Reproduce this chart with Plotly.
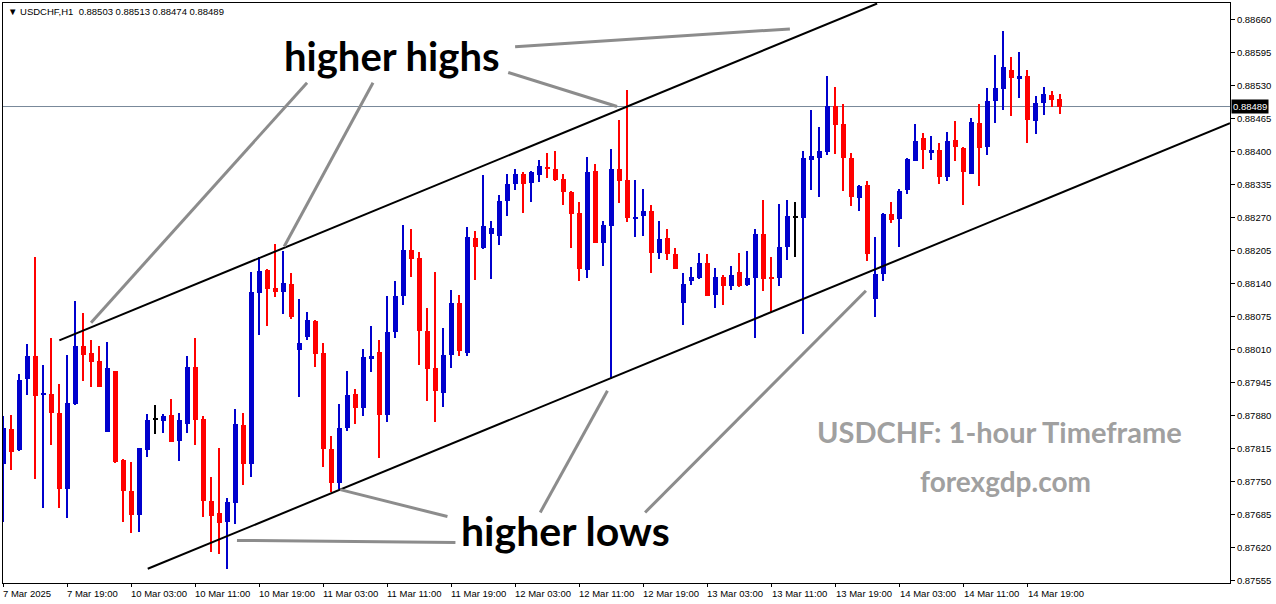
import plotly.graph_objects as go

# ---------------- data (USDCHF H1, prices) ----------------
opens = [0.87785,0.87854,0.87813,0.87953,0.87998,0.87922,0.87923,0.87886,0.87736,0.87903,
0.88018,0.88004,0.87988,0.87848,0.87967,0.87792,0.87731,0.87685,0.87813,0.87873,
0.87870,0.87882,0.87829,0.87864,0.87976,0.87874,0.87712,0.87687,0.87671,0.87707,
0.87862,0.87785,0.88122,0.88166,0.88132,0.88124,0.88140,0.88010,0.88034,0.88067,
0.88003,0.87814,0.87747,0.87855,0.87923,0.87894,0.87991,0.88005,0.87881,0.88044,
0.88115,0.88207,0.88191,0.88047,0.87974,0.87924,0.87999,0.88101,0.88003,0.88229,
0.88210,0.88237,0.88233,0.88302,0.88336,0.88357,0.88338,0.88355,0.88370,0.88365,
0.88347,0.88321,0.88280,0.88166,0.88361,0.88221,0.88253,0.88365,0.88345,0.88269,
0.88273,0.88284,0.88200,0.88229,0.88199,0.88101,0.88146,0.88152,0.88181,0.88117,
0.88154,0.88135,0.88162,0.88137,0.88152,0.88238,0.88153,0.88152,0.88213,0.88271,
0.88269,0.88384,0.88387,0.88400,0.88491,0.88454,0.88388,0.88308,0.88335,0.88109,
0.88158,0.88278,0.88267,0.88324,0.88382,0.88426,0.88397,0.88404,0.88351,0.88424,
0.88408,0.88357,0.88457,0.88409,0.88499,0.88523,0.88560,0.88544,0.88550,0.88460,
0.88495,0.88512,0.88503]
highs = [0.87880,0.87882,0.87962,0.88021,0.88193,0.87980,0.88032,0.87942,0.88000,0.88106,
0.88083,0.88028,0.88018,0.88024,0.87967,0.87795,0.87789,0.87817,0.87883,0.87900,
0.87883,0.87913,0.87886,0.87998,0.88032,0.87880,0.87758,0.87817,0.87718,0.87892,
0.87886,0.88162,0.88193,0.88168,0.88219,0.88205,0.88160,0.88110,0.88085,0.88069,
0.88022,0.87840,0.87902,0.87967,0.87933,0.88012,0.88056,0.88028,0.88115,0.88146,
0.88256,0.88248,0.88203,0.88091,0.88162,0.88052,0.88128,0.88118,0.88252,0.88243,
0.88355,0.88264,0.88315,0.88357,0.88366,0.88359,0.88361,0.88384,0.88398,0.88402,
0.88357,0.88323,0.88301,0.88389,0.88376,0.88264,0.88406,0.88463,0.88522,0.88345,
0.88327,0.88294,0.88264,0.88248,0.88211,0.88160,0.88173,0.88201,0.88199,0.88171,
0.88156,0.88175,0.88201,0.88205,0.88247,0.88305,0.88192,0.88296,0.88305,0.88301,
0.88402,0.88483,0.88449,0.88550,0.88528,0.88493,0.88398,0.88335,0.88343,0.88231,
0.88280,0.88301,0.88326,0.88388,0.88455,0.88437,0.88431,0.88418,0.88439,0.88461,
0.88410,0.88467,0.88493,0.88526,0.88591,0.88638,0.88587,0.88597,0.88560,0.88510,
0.88528,0.88520,0.88513]
lows = [0.87670,0.87773,0.87811,0.87921,0.87754,0.87697,0.87821,0.87697,0.87678,0.87900,
0.87948,0.87937,0.87937,0.87848,0.87786,0.87670,0.87648,0.87651,0.87798,0.87843,
0.87845,0.87827,0.87791,0.87845,0.87821,0.87681,0.87612,0.87608,0.87578,0.87667,
0.87744,0.87758,0.88039,0.88057,0.88114,0.88081,0.88071,0.87916,0.88028,0.87976,
0.87778,0.87729,0.87735,0.87849,0.87863,0.87879,0.87965,0.87796,0.87867,0.88032,
0.88097,0.88154,0.87979,0.87908,0.87867,0.87896,0.87973,0.87997,0.87997,0.88148,
0.88208,0.88150,0.88217,0.88273,0.88324,0.88280,0.88300,0.88340,0.88349,0.88342,
0.88294,0.88210,0.88146,0.88152,0.88221,0.88175,0.87952,0.88298,0.88261,0.88231,
0.88233,0.88160,0.88188,0.88186,0.88168,0.88058,0.88138,0.88150,0.88115,0.88091,
0.88097,0.88128,0.88133,0.88135,0.88032,0.88125,0.88085,0.88135,0.88186,0.88192,
0.88040,0.88324,0.88310,0.88394,0.88396,0.88322,0.88292,0.88284,0.88184,0.88074,
0.88145,0.88259,0.88213,0.88316,0.88381,0.88365,0.88383,0.88336,0.88342,0.88381,
0.88294,0.88357,0.88332,0.88393,0.88456,0.88483,0.88470,0.88505,0.88418,0.88434,
0.88472,0.88489,0.88474]
closes = [0.87856,0.87808,0.87951,0.87998,0.87919,0.87923,0.87886,0.87736,0.87905,0.88018,
0.88000,0.87985,0.87937,0.87973,0.87789,0.87731,0.87685,0.87817,0.87872,0.87873,
0.87880,0.87827,0.87872,0.87976,0.87872,0.87712,0.87683,0.87669,0.87710,0.87864,
0.87785,0.88124,0.88164,0.88130,0.88124,0.88142,0.88075,0.88022,0.88069,0.88002,
0.87814,0.87747,0.87855,0.87921,0.87894,0.87996,0.87998,0.87882,0.88045,0.88116,
0.88207,0.88188,0.88046,0.87971,0.87928,0.88000,0.88102,0.88007,0.88231,0.88212,
0.88254,0.88250,0.88303,0.88337,0.88357,0.88336,0.88359,0.88372,0.88365,0.88345,
0.88320,0.88277,0.88168,0.88359,0.88221,0.88256,0.88366,0.88343,0.88269,0.88271,
0.88284,0.88200,0.88227,0.88198,0.88168,0.88140,0.88154,0.88181,0.88116,0.88154,
0.88135,0.88156,0.88135,0.88152,0.88238,0.88150,0.88150,0.88213,0.88274,0.88271,
0.88388,0.88392,0.88402,0.88491,0.88452,0.88387,0.88310,0.88333,0.88198,0.88158,
0.88278,0.88265,0.88323,0.88386,0.88422,0.88403,0.88403,0.88351,0.88422,0.88410,
0.88359,0.88459,0.88407,0.88500,0.88526,0.88567,0.88546,0.88550,0.88462,0.88495,
0.88514,0.88501,0.88489]

x_tick_labels = ["7 Mar 2025", "7 Mar 19:00", "10 Mar 03:00", "10 Mar 11:00", "10 Mar 19:00",
                 "11 Mar 03:00", "11 Mar 11:00", "11 Mar 19:00", "12 Mar 03:00", "12 Mar 11:00",
                 "12 Mar 19:00", "13 Mar 03:00", "13 Mar 11:00", "13 Mar 19:00", "14 Mar 03:00",
                 "14 Mar 11:00", "14 Mar 19:00"]
x_tick_step = 8  # bars between time labels
y_tick_values = [round(0.87555 + 0.00065 * k, 5) for k in range(18)]
last_price = 0.88489
header_text = "▼ USDCHF,H1&nbsp; 0.88503 0.88513 0.88474 0.88489"

# channel lines (bar index, price)
upper_channel = [(7.0, 0.88028), (109.2, 0.88692)]
lower_channel = [(18.05, 0.87578), (153.3, 0.88456)]
# grey pointer lines
hh_pointers = [[(37.96, 0.88536), (10.96, 0.88063)],
               [(46.2, 0.88536), (35.1, 0.88213)],
               [(63.1, 0.88556), (76.7, 0.88489)],
               [(63.96, 0.88607), (98.3, 0.88642)]]
hl_pointers = [[(56.5, 0.87630), (29.2, 0.87634)],
               [(55.5, 0.87681), (42.1, 0.87734)],
               [(67.1, 0.87689), (75.5, 0.87929)],
               [(80.2, 0.87689), (107.8, 0.88126)]]

# ---------------- figure ----------------
n = len(opens)
idx = list(range(n))
BLUE = "#0000CD"
RED = "#FF0000"


def col(o, c):
    if c > o:
        return BLUE
    if c < o:
        return RED
    return "#000000"

colors = [col(o, c) for o, c in zip(opens, closes)]

fig = go.Figure()
# wicks
fig.add_trace(go.Bar(
    x=idx, base=lows, y=[h - l for h, l in zip(highs, lows)],
    width=0.14, marker=dict(color=colors, line=dict(width=0)),
    hoverinfo="skip", showlegend=False))
# bodies
fig.add_trace(go.Bar(
    x=idx, base=[min(o, c) for o, c in zip(opens, closes)],
    y=[max(abs(c - o), 0.00002) for o, c in zip(opens, closes)],
    width=0.64, marker=dict(color=colors, line=dict(width=0)),
    customdata=list(zip(opens, highs, lows, closes)),
    hovertemplate="O %{customdata[0]:.5f}<br>H %{customdata[1]:.5f}<br>L %{customdata[2]:.5f}<br>C %{customdata[3]:.5f}<extra></extra>",
    showlegend=False))

shapes = []
# current price line
shapes.append(dict(type="line", xref="paper", x0=0, x1=1, yref="y", y0=last_price, y1=last_price,
                   line=dict(color="#778899", width=1), layer="below"))
for (a, b) in [upper_channel, lower_channel]:
    shapes.append(dict(type="line", xref="x", yref="y", x0=a[0], y0=a[1], x1=b[0], y1=b[1],
                       line=dict(color="#000000", width=2)))
for seg in hh_pointers + hl_pointers:
    shapes.append(dict(type="line", xref="x", yref="y", x0=seg[0][0], y0=seg[0][1],
                       x1=seg[1][0], y1=seg[1][1], line=dict(color="#8c8c8c", width=3)))

annotations = []
small_font = dict(family="Liberation Sans, Arial, sans-serif", size=9.5, color="#000000")
for k, lab in enumerate(x_tick_labels):
    annotations.append(dict(x=k * x_tick_step, y=0, xref="x", yref="paper", text=lab,
                            showarrow=False, xanchor="left", yanchor="top", xshift=-2, yshift=-3,
                            font=small_font))
annotations.append(dict(x=0, y=1, xref="paper", yref="paper", text=header_text, showarrow=False,
                        xanchor="left", yanchor="top", xshift=3, yshift=-1, font=small_font))
annotations.append(dict(x=1, y=last_price, xref="paper", yref="y", text="0.88489", showarrow=False,
                        xanchor="left", yanchor="middle", xshift=1, bgcolor="#000000", borderpad=1,
                        font=dict(family="Liberation Sans, Arial, sans-serif", size=9.5, color="#ffffff")))
annotations.append(dict(x=48.6, y=0.88589, xref="x", yref="y", text="<b>higher highs</b>",
                        showarrow=False, font=dict(family="Lato, Liberation Sans, sans-serif", size=40, color="#000000")))
annotations.append(dict(x=70.2, y=0.87653, xref="x", yref="y", text="<b>higher lows</b>",
                        showarrow=False, font=dict(family="Lato, Liberation Sans, sans-serif", size=41, color="#000000")))
annotations.append(dict(x=124.5, y=0.87848, xref="x", yref="y", text="<b>USDCHF: 1-hour Timeframe</b>",
                        showarrow=False, font=dict(family="Lato, Liberation Sans, sans-serif", size=29, color="#a0a0a0")))
annotations.append(dict(x=125.2, y=0.87752, xref="x", yref="y", text="<b>forexgdp.com</b>",
                        showarrow=False, font=dict(family="Lato, Liberation Sans, sans-serif", size=28, color="#a0a0a0")))

fig.update_layout(
    width=1276, height=604,
    margin=dict(l=3, r=46, t=3, b=21),
    paper_bgcolor="#ffffff", plot_bgcolor="#ffffff",
    barmode="overlay", bargap=0,
    shapes=shapes, annotations=annotations,
    showlegend=False,
    xaxis=dict(range=[-0.04, 153.3], tickmode="array",
               tickvals=[k * x_tick_step for k in range(len(x_tick_labels))],
               showticklabels=False, ticks="outside", ticklen=3, tickcolor="#000000",
               showgrid=False, zeroline=False, showline=True, linecolor="#000000",
               linewidth=1, mirror=True, fixedrange=True),
    yaxis=dict(range=[0.87550, 0.88693], side="right", tickmode="array",
               tickvals=y_tick_values, ticktext=[f"{v:.5f}" for v in y_tick_values],
               ticks="outside", ticklen=4, tickcolor="#000000",
               tickfont=small_font, showgrid=False, zeroline=False,
               showline=True, linecolor="#000000", linewidth=1, mirror=True, fixedrange=True),
)

fig.write_html("out.html", config={"displayModeBar": False},
               post_script="document.body.style.margin='0';document.body.style.padding='0';")
